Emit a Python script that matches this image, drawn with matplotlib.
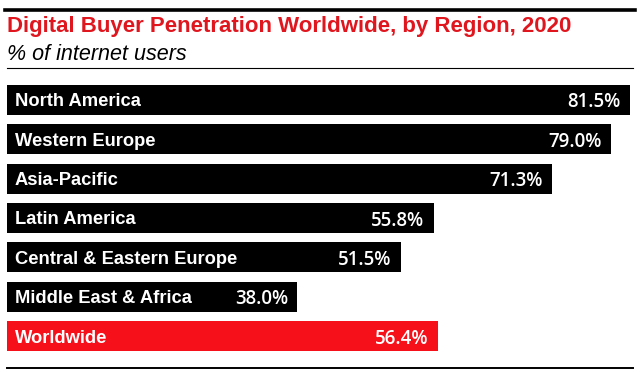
import matplotlib.pyplot as plt
from matplotlib.lines import Line2D
from matplotlib import font_manager

regions = ['North America', 'Western Europe', 'Asia-Pacific', 'Latin America',
           'Central & Eastern Europe', 'Middle East & Africa', 'Worldwide']
values = [81.5, 79.0, 71.3, 55.8, 51.5, 38.0, 56.4]
bar_colors = ['#000000'] * 6 + ['#F5101A']

names = {f.name for f in font_manager.fontManager.ttflist}
narrow = 'Liberation Sans Narrow' if 'Liberation Sans Narrow' in names else 'Liberation Sans'

W, H = 640, 373
fig = plt.figure(figsize=(W / 100, H / 100), dpi=100)

def fx(px):
    return px / W

def fy(py):
    return 1 - py / H

ax = fig.add_axes([fx(7), fy(356), fx(633) - fx(7), fy(80) - fy(356)])
ypos = list(range(len(values)))[::-1]
ax.barh(ypos, values, height=0.76, color=bar_colors, edgecolor='none')
ax.set_xlim(0, 81.9)
ax.set_ylim(-0.5, 6.5)
ax.axis('off')

for y, name, v in zip(ypos, regions, values):
    ax.text(1.0, y, name, color='white', fontsize=13.2, fontweight='bold',
            family=narrow, va='center_baseline', ha='left')
    ax.text(v - 1.2, y, f'{v:.1f}%', color='white', fontsize=13.5,
            family='Open Sans', fontweight='semibold', va='center_baseline', ha='right')

# rules
fig.add_artist(Line2D([fx(5), fx(635)], [fy(10), fy(10)], color='black', lw=2.6))
fig.add_artist(Line2D([fx(7), fx(633)], [fy(68), fy(68)], color='black', lw=0.8))
fig.add_artist(Line2D([fx(7), fx(633)], [fy(368), fy(368)], color='black', lw=1.4))

fig.text(fx(7), fy(32), 'Digital Buyer Penetration Worldwide, by Region, 2020',
         color='#E0161F', fontsize=16, fontweight='bold', family=narrow, va='baseline')
fig.text(fx(7), fy(60), '% of internet users', color='black', fontsize=15.5,
         style='italic', family=narrow, va='baseline')

fig.savefig('out.png', dpi=100)
